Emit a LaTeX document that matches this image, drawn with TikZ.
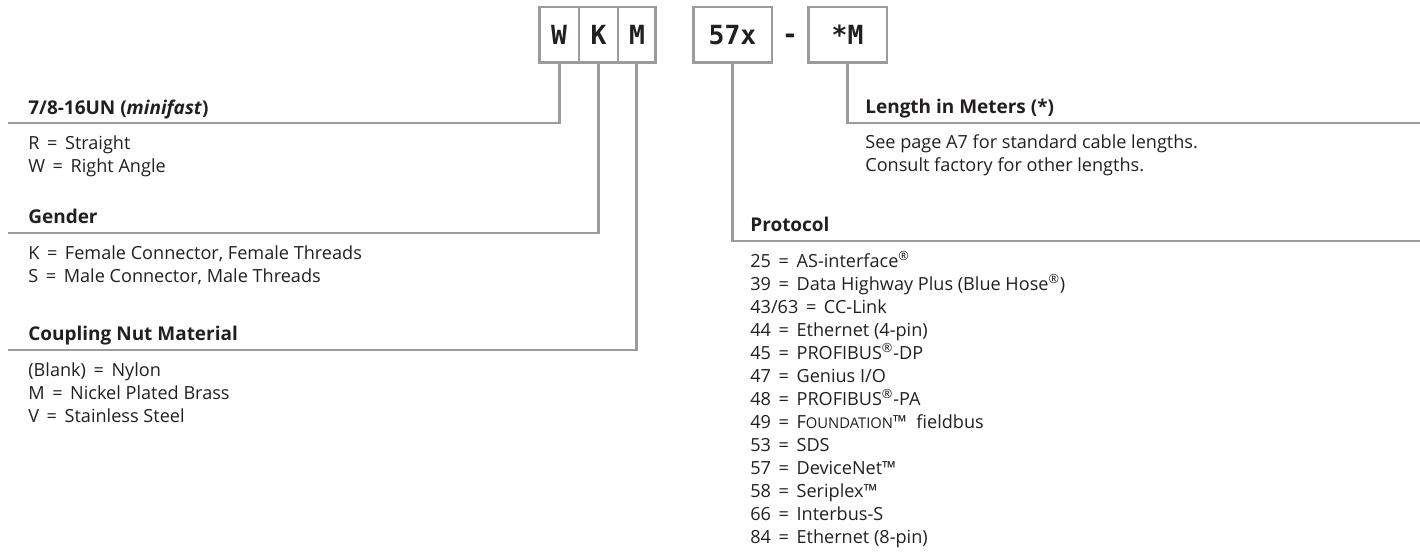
\documentclass[tikz,border=0pt]{standalone}
\usepackage{fontspec}
\setmainfont{Open Sans}
\newfontfamily\codigo{DejaVu Sans Mono}
\usepackage{tikz}
\usetikzlibrary{positioning}
\definecolor{gris}{RGB}{155,155,157}
\definecolor{tinta}{RGB}{35,31,32}
\newcommand{\marca}{\textsuperscript{®}}
\newcommand{\versal}[1]{{\fontsize{8.4}{9}\selectfont #1}}
\newcommand{\igual}{\hspace{0.42em}=\hspace{0.42em}}

\begin{document}
\begin{tikzpicture}[x=0.02cm,y=-0.02cm,
  casilla/.style={draw=gris,line width=1.7pt,fill=white,minimum height=1.12cm,outer sep=0pt,inner sep=0pt,font=\codigo\bfseries\fontsize{15}{18}\selectfont,text=tinta},
  linea/.style={draw=gris,line width=1.7pt},
  titulo/.style={anchor=base west,inner sep=0pt,font=\bfseries\fontsize{10.8}{12}\selectfont,text=tinta},
  renglon/.style={anchor=base west,inner sep=0pt,font=\fontsize{10.3}{12}\selectfont,text=tinta}]
\useasboundingbox (0,0) rectangle (1420,554);

\node[casilla,minimum width=0.8cm] (w) at (559,35) {W};
\node[casilla,minimum width=0.78cm,right=0pt of w] (k) {K};
\node[casilla,minimum width=0.76cm,right=0pt of k] (m) {M};
\node[casilla,minimum width=1.58cm] (p) at (732.5,35) {57x};
\node[inner sep=0pt,font=\codigo\bfseries\fontsize{15}{18}\selectfont,text=tinta] (guion) at (790,39) {-};
\node[casilla,minimum width=1.58cm] (l) at (847.5,35) {*M};

\coordinate (fw) at (8,123);
\coordinate (fk) at (8,233);
\coordinate (fm) at (8,350);
\coordinate (fp) at (1420,241);
\coordinate (fl) at (1420,123);
\draw[linea] (w.south) |- (fw);
\draw[linea] (k.south) |- (fk);
\draw[linea] (m.south) |- (fm);
\draw[linea] (p.south) |- (fp);
\draw[linea] (l.south) |- (fl);

\node[titulo] (trosca) at (28,114) {7/8-16UN (\textit{minifast})};
\node[titulo] (tgenero) at (28,223) {Gender};
\node[titulo] (ttuerca) at (28,340) {Coupling Nut Material};
\node[titulo] (tlargo) at (865,113) {Length in Meters (*)};
\node[titulo] (tproto) at (750,231) {Protocol};

\node[renglon] (r1) at (28,150) {R\igual Straight};
\node[renglon] (r2) at (28,173) {W\igual Right Angle};
\node[renglon] (g1) at (28,259) {K\igual Female Connector, Female Threads};
\node[renglon] (g2) at (28,282) {S\igual Male Connector, Male Threads};
\node[renglon] (t1) at (28,376) {(Blank)\igual Nylon};
\node[renglon] (t2) at (28,399) {M\igual Nickel Plated Brass};
\node[renglon] (t3) at (28,422) {V\igual Stainless Steel};
\node[renglon] (l1) at (865,149) {See page A7 for standard cable lengths.};
\node[renglon] (l2) at (865,172) {Consult factory for other lengths.};

\foreach \txt [count=\i] in {{25\igual AS-interface\marca},{39\igual Data Highway Plus (Blue Hose\marca)},{43/63\igual CC-Link},{44\igual Ethernet (4-pin)},{45\igual PROFIBUS\marca-DP},{47\igual Genius I/O},{48\igual PROFIBUS\marca-PA},{49\igual F\versal{OUNDATION}™\ \ fieldbus},{53\igual SDS},{57\igual DeviceNet™},{58\igual Seriplex™},{66\igual Interbus-S},{84\igual Ethernet (8-pin)}}
  \node[renglon] (p\i) at (750,{267+23*(\i-1)}) {\txt};
\end{tikzpicture}
\end{document}
